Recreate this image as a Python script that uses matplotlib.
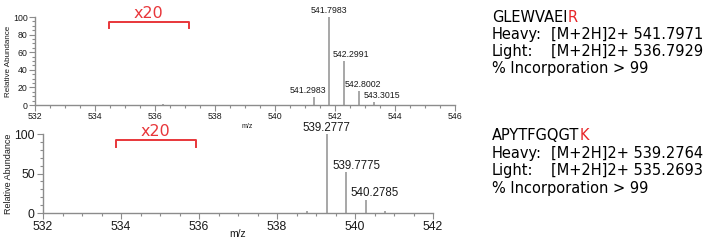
import matplotlib
matplotlib.use("Agg")
import matplotlib.pyplot as plt
from matplotlib.ticker import MultipleLocator

# ---------------------------------------------------------------------------
# data
# ---------------------------------------------------------------------------
heavy_r_mz = [536.26, 541.2983, 541.7983, 542.2991, 542.8002, 543.3015]
heavy_r_int = [1.0, 9.5, 100.0, 50.0, 16.0, 3.0]
heavy_r_labels = ["", "541.2983", "541.7983", "542.2991", "542.8002", "543.3015"]
heavy_r_dx = [0, -6, 0, 7, 4, 8]  # label offsets in px

heavy_k_mz = [538.78, 539.2777, 539.7775, 540.2785, 540.78]
heavy_k_int = [3.0, 100.0, 52.0, 17.0, 2.5]
heavy_k_labels = ["", "539.2777", "539.7775", "540.2785", ""]
heavy_k_dx = [0, 0, 10, 9, 0]

bracket_top = [534.45, 537.13]
bracket_bottom = [533.86, 535.92]

peptides = ["GLEWVAEI", "APYTFGQGT"]
label_res = ["R", "K"]
heavy_txt = ["[M+2H]2+ 541.7971", "[M+2H]2+ 539.2764"]
light_txt = ["[M+2H]2+ 536.7929", "[M+2H]2+ 535.2693"]
incorporation = ["% Incorporation > 99", "% Incorporation > 99"]

W, H = 712, 245
fig = plt.figure(figsize=(W / 100, H / 100), dpi=100)

CHART_FONT = "Liberation Sans"
GREY = "#8c8c8c"


def px(x0, y0, w, h):
    return [x0 / W, 1 - (y0 + h) / H, w / W, h / H]


def draw_spectrum(ax, mz, inten, labels, dx, xlim, ymaj, ymin, fs_tick, fs_lab,
                  fs_peak, lw, pad, dy):
    ax.vlines(mz, 0, inten, color="#a0a0a0", lw=lw)
    ax.set_xlim(*xlim)
    ax.set_ylim(0, 100)
    for s in ["top", "right"]:
        ax.spines[s].set_visible(False)
    for s in ["left", "bottom"]:
        ax.spines[s].set_color(GREY)
        ax.spines[s].set_linewidth(1.0)
    ax.xaxis.set_major_locator(MultipleLocator(2))
    ax.xaxis.set_minor_locator(MultipleLocator(0.5))
    ax.yaxis.set_major_locator(MultipleLocator(ymaj))
    ax.yaxis.set_minor_locator(MultipleLocator(ymin))
    ax.tick_params(which="major", length=4, width=0.8, color=GREY,
                   labelsize=fs_tick, pad=pad)
    ax.tick_params(which="minor", length=2.5, width=0.8, color=GREY)
    for t in ax.get_xticklabels() + ax.get_yticklabels():
        t.set_fontfamily(CHART_FONT)
        t.set_color("#1a1a1a")
    ax.set_ylabel("Relative Abundance", fontsize=fs_lab, family=CHART_FONT,
                  color="#1a1a1a", labelpad=1)
    ax.patch.set_alpha(0)
    for m, v, lab, d in zip(mz, inten, labels, dx):
        if lab:
            ax.annotate(lab, xy=(m, v), xytext=(d * 0.72, dy),
                        textcoords="offset points", ha="center", va="bottom",
                        fontsize=fs_peak, family=CHART_FONT, color="#1a1a1a",
                        annotation_clip=False)


def draw_bracket(ax, xs, y_top, y_leg, y_txt, fs):
    ax.plot([xs[0], xs[0], xs[1], xs[1]], [y_leg, y_top, y_top, y_leg],
            color="#e8363a", lw=1.4, clip_on=False)
    ax.text(sum(xs) / 2, y_txt, "x20", color="#e8363a", fontsize=fs,
            ha="center", va="bottom", family="DejaVu Sans")


# top spectrum (R labelled peptide)
ax1 = fig.add_axes(px(35, 17, 420, 88))
draw_spectrum(ax1, heavy_r_mz, heavy_r_int, heavy_r_labels, heavy_r_dx,
              (532, 546), 20, 5, 6.3, 5.8, 6.3, 1.3, 1.2, 1.5)
draw_bracket(ax1, bracket_top, 94.7, 87.5, 96, 11.5)
fig.text(247 / W, 1 - 127 / H, "m/z", fontsize=5, family=CHART_FONT,
         ha="center", va="center", color="#1a1a1a")

# bottom spectrum (K labelled peptide)
ax2 = fig.add_axes(px(43, 134, 390, 79))
draw_spectrum(ax2, heavy_k_mz, heavy_k_int, heavy_k_labels, heavy_k_dx,
              (532, 542), 50, 10, 8.8, 6.5, 8.3, 1.3, 2, 0.2)
draw_bracket(ax2, bracket_bottom, 92.4, 83.9, 94, 11.5)
fig.text(238 / W, 1 - 234 / H, "m/z", fontsize=7.5, family=CHART_FONT,
         ha="center", va="center", color="#1a1a1a")

# peptide text blocks on the right
TXT = dict(fontsize=10.5, family="DejaVu Sans", va="center", color="black")
rows_y = [[17, 34, 51, 68], [135, 153, 170, 188]]
for i in range(2):
    y = rows_y[i]
    t = fig.text(492 / W, 1 - y[0] / H, peptides[i], **TXT)
    ax1.annotate(label_res[i], xy=(1, 0.5), xycoords=t, va="center",
                 ha="left", fontsize=10.5, family="DejaVu Sans", color="#e8262a",
                 annotation_clip=False)
    fig.text(492 / W, 1 - y[1] / H, "Heavy:", **TXT)
    fig.text(551 / W, 1 - y[1] / H, heavy_txt[i], **TXT)
    fig.text(492 / W, 1 - y[2] / H, "Light:", **TXT)
    fig.text(551 / W, 1 - y[2] / H, light_txt[i], **TXT)
    fig.text(492 / W, 1 - y[3] / H, incorporation[i], **TXT)

fig.savefig("out.png", dpi=100)
